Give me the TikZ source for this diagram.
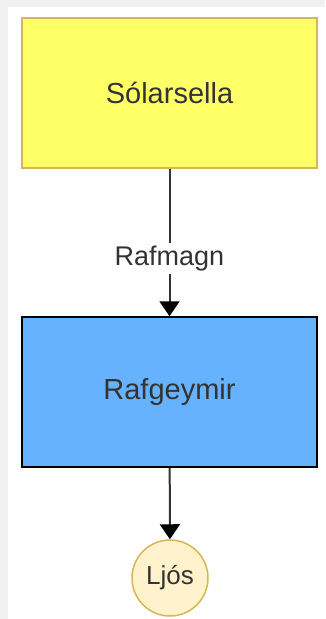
\documentclass[tikz,border=0pt]{standalone}
\usepackage{fontspec}
\setmainfont{Liberation Sans}
\usepackage{xcolor}
\definecolor{mainDark}{HTML}{333333}
\definecolor{panelBg}{HTML}{F0F0F0}
\definecolor{sunFill}{HTML}{FFFF66}
\definecolor{sunLine}{HTML}{D6B656}
\definecolor{batteryFill}{HTML}{66B2FF}
\definecolor{lampFill}{HTML}{FFF2CC}
\usetikzlibrary{positioning,arrows.meta}
\tikzset{%
  partBox/.style={%
    rectangle,
    draw=black,
    line width=1.5pt,
    minimum width=295pt,
    minimum height=150pt,
    text=mainDark,
    font=\fontsize{29}{34}\selectfont
  },
  lampCircle/.style={%
    circle,
    draw=sunLine,
    fill=lampFill,
    line width=1.5pt,
    minimum size=76pt,
    inner sep=0pt,
    text=mainDark,
    font=\fontsize{26}{30}\selectfont
  },
  arrowLine/.style={%
    -{Triangle[length=15pt,width=20pt,color=black]},
    line width=2pt,
    color=mainDark
  }
}

\begin{document}
\begin{tikzpicture}[x=1pt,y=-1pt]
            \fill[panelBg] (0,0) rectangle (325,619);
            \fill[white] (8,7) rectangle (325,619);
            \useasboundingbox (0,0) rectangle (325,619);

            \node[partBox, draw=sunLine, fill=sunFill] (solar) at (169.5,93) {Sólarsella};
            \node[partBox, fill=batteryFill] (battery) at (169.5,392) {Rafgeymir};
            \node[lampCircle] (lamp) at (170,578) {Ljós};

            \draw[arrowLine] (solar) -- node[pos=0.61, fill=white, inner sep=3pt, font=\fontsize{27}{30}\selectfont]{Rafmagn} (battery);
            \draw[arrowLine] (battery) -- (lamp);
        \end{tikzpicture}
\end{document}
